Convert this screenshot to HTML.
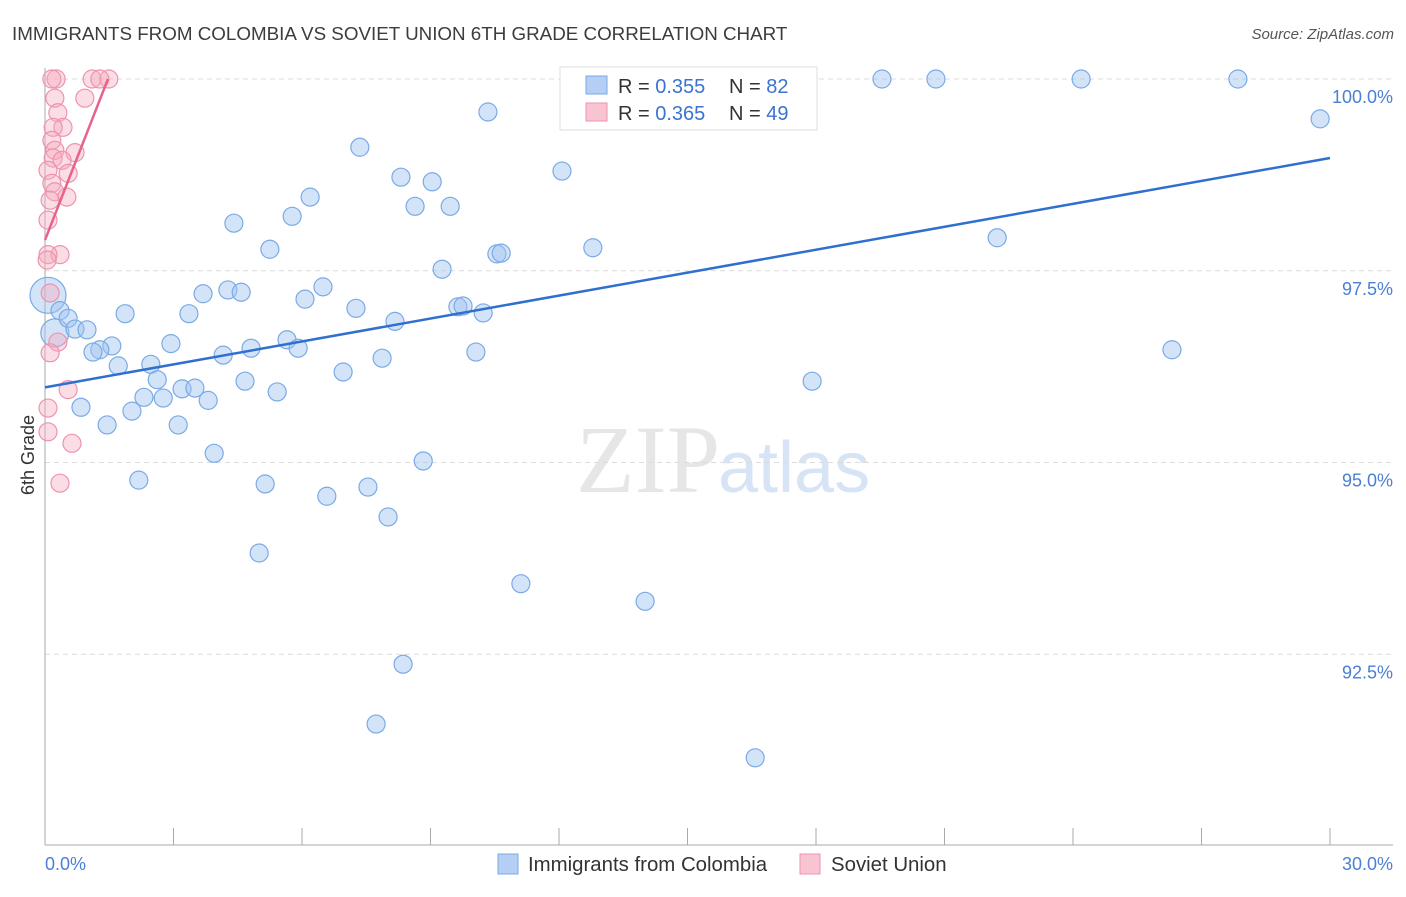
<!DOCTYPE html>
<html><head><meta charset="utf-8"><style>
body{margin:0;background:#fff;font-family:"Liberation Sans",sans-serif}
</style></head><body>
<svg width="1406" height="892" viewBox="0 0 1406 892" xmlns="http://www.w3.org/2000/svg">
<text x="12" y="40" font-size="18.8" fill="#3c3c3c">IMMIGRANTS FROM COLOMBIA VS SOVIET UNION 6TH GRADE CORRELATION CHART</text>
<text x="1394" y="39" font-size="15" fill="#555" font-style="italic" text-anchor="end">Source: ZipAtlas.com</text>
<text x="720" y="492" font-size="96" fill="#e6e6e6" text-anchor="end" font-family="Liberation Serif">ZIP</text>
<text x="718" y="492" font-size="72" fill="#d7e4f5">atlas</text>
<g id="grid"></g>
<g id="axes"></g>
<g id="pts"></g>
<text x="34" y="455" font-size="18" fill="#333" text-anchor="middle" transform="rotate(-90 34 455)">6th Grade</text>
<text x="45" y="870" font-size="18" fill="#4a7fd4">0.0%</text>
<text x="1393" y="870" font-size="18" fill="#4a7fd4" text-anchor="end">30.0%</text>
<g>
<rect x="560" y="67" width="257" height="63" fill="#fff" stroke="#ddd"/>
<rect x="586" y="76" width="21" height="18" fill="#b4cff3" stroke="#7aaae6"/>
<rect x="586" y="103" width="21" height="18" fill="#f9c4d2" stroke="#ee93ad"/>
<text x="618" y="93" font-size="20" fill="#333">R = <tspan fill="#3a74d0">0.355</tspan></text>
<text x="729" y="93" font-size="20" fill="#333">N = <tspan fill="#3a74d0">82</tspan></text>
<text x="618" y="120" font-size="20" fill="#333">R = <tspan fill="#3a74d0">0.365</tspan></text>
<text x="729" y="120" font-size="20" fill="#333">N = <tspan fill="#3a74d0">49</tspan></text>
</g>
<g>
<rect x="498" y="854" width="20" height="20" fill="#b4cff3" stroke="#7aaae6"/>
<text x="528" y="871" font-size="20.4" fill="#333">Immigrants from Colombia</text>
<rect x="800" y="854" width="20" height="20" fill="#f9c4d2" stroke="#ee93ad"/>
<text x="831" y="871" font-size="20.4" fill="#333">Soviet Union</text>
</g>
</svg>
<script>
const yTicks=[100,97.5,95,92.5];
const yTickLabels=["100.0%","97.5%","95.0%","92.5%"];
const xTicks=[0,3,6,9,12,15,18,21,24,27,30];
const blueX=[10.34,7.35,12.07,8.31,9.04,6.19,8.64,9.46,5.77,4.41,5.25,12.79,10.55,10.65,22.23,9.27,6.49,4.27,4.58,3.69,6.07,7.26,9.64,9.76,10.23,1.87,3.36,8.17,0.35,0.54,0.70,0.98,5.65,2.94,1.56,5.91,4.81,1.28,1.12,4.16,10.06,7.87,26.31,1.71,2.47,6.96,2.62,4.67,17.91,3.20,3.50,5.42,2.31,2.76,3.81,0.84,2.03,1.45,3.11,3.95,8.83,2.19,5.14,7.54,6.58,8.01,5.00,11.11,14.01,8.36,7.73,16.58,19.54,20.8,24.19,27.85,29.77,13.82,15.27];
const blueY=[99.57,99.11,98.80,98.72,98.66,98.46,98.34,98.34,98.21,98.12,97.78,97.80,97.72,97.73,97.93,97.52,97.29,97.25,97.22,97.20,97.13,97.01,97.03,97.04,96.95,96.94,96.94,96.84,96.98,96.88,96.74,96.73,96.60,96.55,96.52,96.49,96.49,96.47,96.44,96.40,96.44,96.36,96.47,96.26,96.28,96.18,96.08,96.06,96.06,95.96,95.97,95.92,95.85,95.84,95.81,95.72,95.67,95.49,95.49,95.12,95.02,94.77,94.72,94.68,94.56,94.29,93.82,93.42,93.19,92.37,91.59,91.15,100,100,100,100,99.48,100,100];
const blueBigX=[0.07,0.23];
const blueBigY=[97.18,96.69];
const pinkX=[0.26,1.10,1.49,1.28,0.16,0.93,0.23,0.30,0.42,0.19,0.16,0.23,0.70,0.19,0.40,0.07,0.54,0.16,0.23,0.51,0.12,0.07,0.35,0.07,0.05,0.12,0.30,0.12,0.54,0.07,0.07,0.63,0.35];
const pinkY=[100,100,100,100,100,99.75,99.75,99.56,99.37,99.37,99.20,99.07,99.04,98.97,98.94,98.81,98.77,98.64,98.53,98.46,98.42,98.16,97.71,97.71,97.64,97.21,96.57,96.43,95.95,95.71,95.40,95.25,94.73];
const blueLine=[[0,95.98],[30,98.97]];
const pinkLine=[[0,97.9],[1.47,100]];
const NS="http://www.w3.org/2000/svg";
const sx=v=>45+v/30*1285, sy=v=>79+(100-v)*76.7;
function mk(p,t,a){const e=document.createElementNS(NS,t);for(const k in a)e.setAttribute(k,a[k]);p.appendChild(e);return e;}
const grid=document.getElementById('grid'),axes=document.getElementById('axes'),pts=document.getElementById('pts');
yTicks.forEach((v,i)=>{
 const l=mk(grid,'line',{x1:45,x2:1393,y1:sy(v),y2:sy(v),stroke:'#dcdcdc','stroke-dasharray':'5,4'});
 
 
 const t=mk(grid,'text',{x:1393,y:sy(v)+24,'font-size':18,fill:'#4a7fd4','text-anchor':'end'});
 t.textContent=yTickLabels[i];
 
 
});
const ax=mk(axes,'line',{x1:45,x2:45,y1:68,y2:845,stroke:'#aaa'});


const bx=mk(axes,'line',{x1:45,x2:1393,y1:845,y2:845,stroke:'#aaa'});


xTicks.forEach(v=>{const t=mk(axes,'line',{x1:sx(v),x2:sx(v),y1:828,y2:845,stroke:'#aaa'});
 
 });
function dot(x,y,r,f,s,n){const c=mk(pts,'circle',{cx:sx(x),cy:sy(y),r:r,fill:f,stroke:s,'stroke-width':1.2});
 
 }
blueBigX.forEach((x,i)=>dot(x,blueBigY[i],i==0?18:14,'rgba(160,196,240,0.45)','#7aaae6','colombia-point'));
blueX.forEach((x,i)=>dot(x,blueY[i],9,'rgba(160,196,240,0.45)','#7aaae6','colombia-point'));
pinkX.forEach((x,i)=>dot(x,pinkY[i],9,'rgba(244,170,190,0.4)','#ee93ad','soviet-point'));
const bl=mk(pts,'line',{x1:sx(blueLine[0][0]),y1:sy(blueLine[0][1]),x2:sx(blueLine[1][0]),y2:sy(blueLine[1][1]),stroke:'#2f6fd0','stroke-width':2.5});


const pl=mk(pts,'line',{x1:sx(pinkLine[0][0]),y1:sy(pinkLine[0][1]),x2:sx(pinkLine[1][0]),y2:sy(pinkLine[1][1]),stroke:'#e8638a','stroke-width':2.5});


</script>
</body></html>
